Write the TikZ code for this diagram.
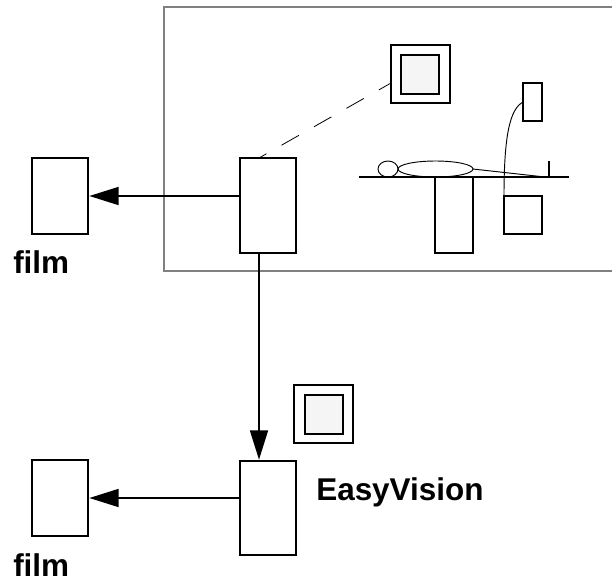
\documentclass[tikz,border=0pt]{standalone}
\usepackage{fontspec}
\setmainfont{Liberation Sans}
\usetikzlibrary{arrows.meta}
\usetikzlibrary{shapes.geometric}
\tikzset{
  unit/.style={draw,line width=1.25pt,inner sep=0pt,outer sep=0pt},
  sized/.style 2 args={unit,minimum width=#1*0.75pt,minimum height=#2*0.75pt},
  oval/.style 2 args={draw,ellipse,line width=0.7pt,inner sep=0pt,outer sep=0pt,minimum width=#1*0.75pt,minimum height=#2*0.75pt},
  screen/.style={sized={38}{39},fill={rgb, 255:red, 245; green, 245; blue, 245}},
  caption/.style={anchor=base west,inner sep=0pt,font=\fontsize{23.6}{28}\selectfont\bfseries},
  feed/.style={line width=1.25pt,-{Triangle[length=22pt,width=13.5pt]},shorten >=1pt},
}
\begin{document}
\begin{tikzpicture}[x=0.75pt,y=0.75pt,yscale=-1,xscale=1]
\useasboundingbox (0,0) rectangle (612,583);

%Room
\draw [color={rgb, 255:red, 128; green, 128; blue, 128},line width=1.25pt] (612,7) -- (164,7) -- (164,271) -- (612,271);

%Hard copy and console
\node [sized={56}{76}] (filmA) at (60,196) {};
\node [sized={56}{95}] (consoleA) at (268,205.5) {};
\node [sized={56}{76}] (filmB) at (60,498) {};
\node [sized={56}{94}] (consoleB) at (268,508) {};

%Monitors
\node [sized={59}{58}] (monitorA) at (420.5,74) {};
\node [screen] (screenA) at (420,74.5) {};
\node [sized={59}{58}] (monitorB) at (323.5,414) {};
\node [screen] (screenB) at (324,414.5) {};

%Scanner
\coordinate (tableL) at (359,177);
\coordinate (tableR) at (569,177);
\coordinate (feet) at (545,177);
\coordinate (rail) at (549,161);
\node [sized={38}{76},anchor=north] (pillar) at (454,177) {};
\node [sized={38}{38}] (tube) at (523,215) {};
\node [sized={19}{38}] (detector) at (532.5,102) {};
\node [oval={20}{16}] (head) at (388,169) {};
\node [oval={75}{16}] (body) at (435.5,169) {};

\draw [line width=1.25pt] (tableL) -- (tableR);
\draw [line width=0.7pt] (body.east) -- (feet);
\draw [line width=1.25pt] (rail) -- (rail |- tableL);
\draw [line width=0.7pt] (detector.west) .. controls (510,109) and (504,135) .. (tube.north west);
\draw [line width=0.6pt,dash pattern=on 15pt off 13pt,dash phase=8.6pt] ([xshift=-6.75pt]consoleA.north) -- ([yshift=6.75pt]monitorA.west);

%Connections
\draw [feed] (filmA.east -| consoleA.west) -- (filmA.east);
\draw [feed] (filmB.east -| consoleB.west) -- (filmB.east);
\draw [feed] ([xshift=-6.75pt]consoleA.south) -- ([xshift=-6.75pt]consoleB.north);

% Text Node
\node [caption] (filmAtext) at (13,273) {film};
% Text Node
\node [caption] (filmBtext) at (13,576) {film};
% Text Node
\node [caption] (evtext) at (316,500.5) {EasyVision};

\end{tikzpicture}
\end{document}
